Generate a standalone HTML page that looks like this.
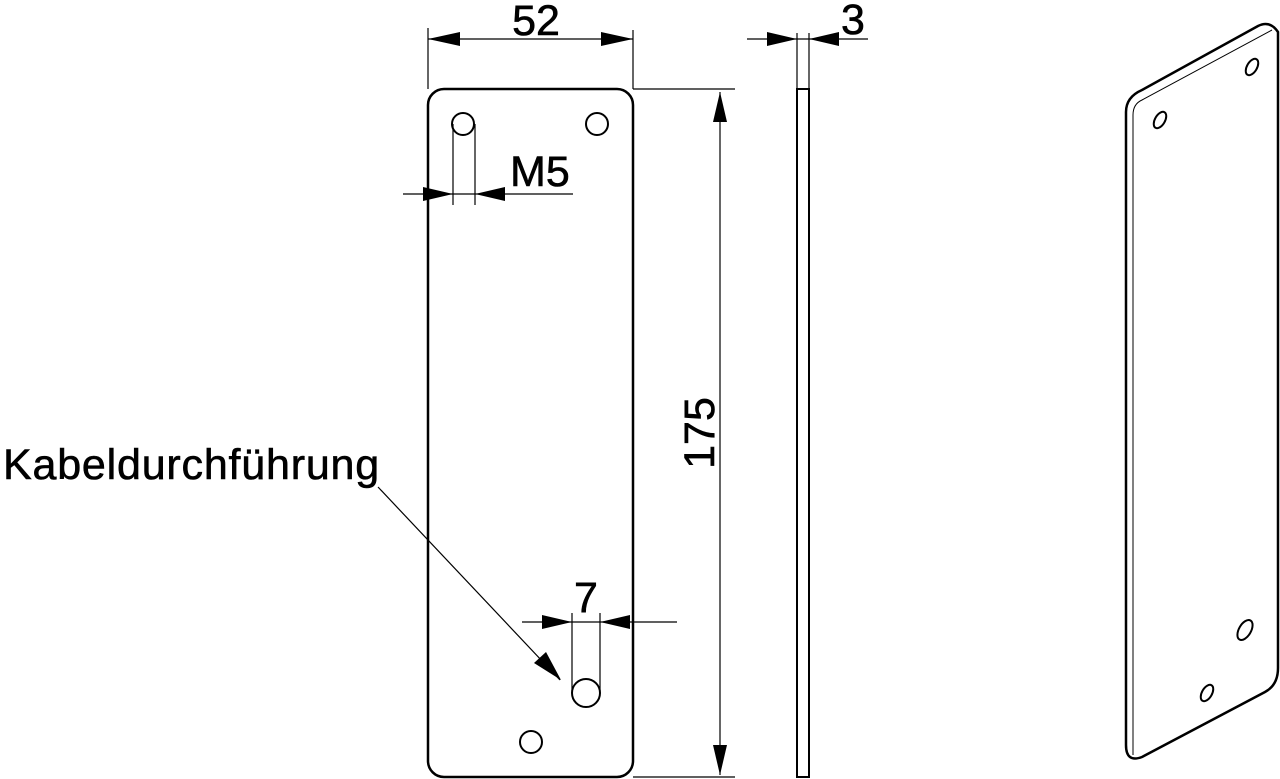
<!DOCTYPE html>
<html><head><meta charset="utf-8"><style>
html,body{margin:0;padding:0;background:#fff;}
svg{display:block;}
text{font-family:"Liberation Sans",Arial,sans-serif;fill:#000;stroke:#000;stroke-width:0.6;}
</style></head><body>
<svg width="1280" height="779" viewBox="0 0 1280 779" xmlns="http://www.w3.org/2000/svg">
<g fill="none" stroke="#000">
<rect x="428" y="89" width="205" height="688" rx="16" stroke-width="2.5"/>
<circle cx="463" cy="124" r="11" stroke-width="2"/>
<circle cx="597" cy="124" r="11" stroke-width="2"/>
<circle cx="586" cy="693" r="14" stroke-width="2"/>
<circle cx="531" cy="742" r="11" stroke-width="2"/>
<line x1="428" y1="28" x2="428" y2="89" stroke-width="1.2"/>
<line x1="633" y1="30" x2="633" y2="89" stroke-width="1.2"/>
<line x1="428" y1="39" x2="633" y2="39" stroke-width="1.2"/>
<line x1="633" y1="89" x2="735" y2="89" stroke-width="1.2"/>
<line x1="633" y1="777" x2="735" y2="777" stroke-width="1.2"/>
<line x1="720" y1="92" x2="720" y2="775" stroke-width="1.2"/>
<line x1="453" y1="124" x2="453" y2="205" stroke-width="1.2"/>
<line x1="475" y1="124" x2="475" y2="205" stroke-width="1.2"/>
<line x1="403" y1="194" x2="573" y2="194" stroke-width="1.2"/>
<line x1="572" y1="613" x2="572" y2="693" stroke-width="1.2"/>
<line x1="600" y1="613" x2="600" y2="693" stroke-width="1.2"/>
<line x1="522" y1="622" x2="677" y2="622" stroke-width="1.2"/>
<rect x="797" y="89" width="12" height="688" stroke-width="2"/>
<line x1="797" y1="33" x2="797" y2="89" stroke-width="1.2"/>
<line x1="809" y1="33" x2="809" y2="89" stroke-width="1.2"/>
<line x1="747" y1="39" x2="868" y2="39" stroke-width="1.2"/>
<line x1="378" y1="487" x2="560" y2="680" stroke-width="1.2"/>
<path d="M1126,112 Q1126,97 1142,90 L1258,26 Q1270,20 1278,32 L1278,668 Q1278,685 1265,692 L1142,757 Q1126,763 1126,745 Z" stroke-width="2.5"/>
<path d="M1133,115 Q1133,104 1142,100 L1272,30" stroke-width="1"/>
<line x1="1133" y1="115" x2="1133" y2="755" stroke-width="1"/>
<ellipse cx="1160" cy="120" rx="5" ry="9" transform="rotate(30 1160 120)" stroke-width="2"/>
<ellipse cx="1252" cy="67" rx="5" ry="9" transform="rotate(30 1252 67)" stroke-width="2"/>
<ellipse cx="1245" cy="630" rx="6" ry="11" transform="rotate(30 1245 630)" stroke-width="2"/>
<ellipse cx="1207" cy="693" rx="5" ry="9" transform="rotate(30 1207 693)" stroke-width="2"/>
</g>
<g fill="#000">
<polygon points="428,39 460,32 460,46"/>
<polygon points="633,39 601,32 601,46"/>
<polygon points="720,92 713,122 727,122"/>
<polygon points="720,775 713,745 727,745"/>
<polygon points="453,194 423,187 423,201"/>
<polygon points="475,194 505,187 505,201"/>
<polygon points="572,622 542,615 542,629"/>
<polygon points="600,622 630,615 630,629"/>
<polygon points="797,39 767,32 767,46"/>
<polygon points="809,39 839,32 839,46"/>
<polygon points="561,680 534,663 546,652"/>
</g>
<text x="536" y="35" font-size="43" text-anchor="middle">52</text>
<text x="853" y="34" font-size="43" text-anchor="middle">3</text>
<text x="510" y="186" font-size="43">M5</text>
<text x="586" y="612" font-size="43" text-anchor="middle">7</text>
<text x="3" y="479" font-size="43" letter-spacing="0.8">Kabeldurchführung</text>
<text transform="translate(714,433) rotate(-90)" font-size="43" text-anchor="middle">175</text>
</svg>
</body></html>
